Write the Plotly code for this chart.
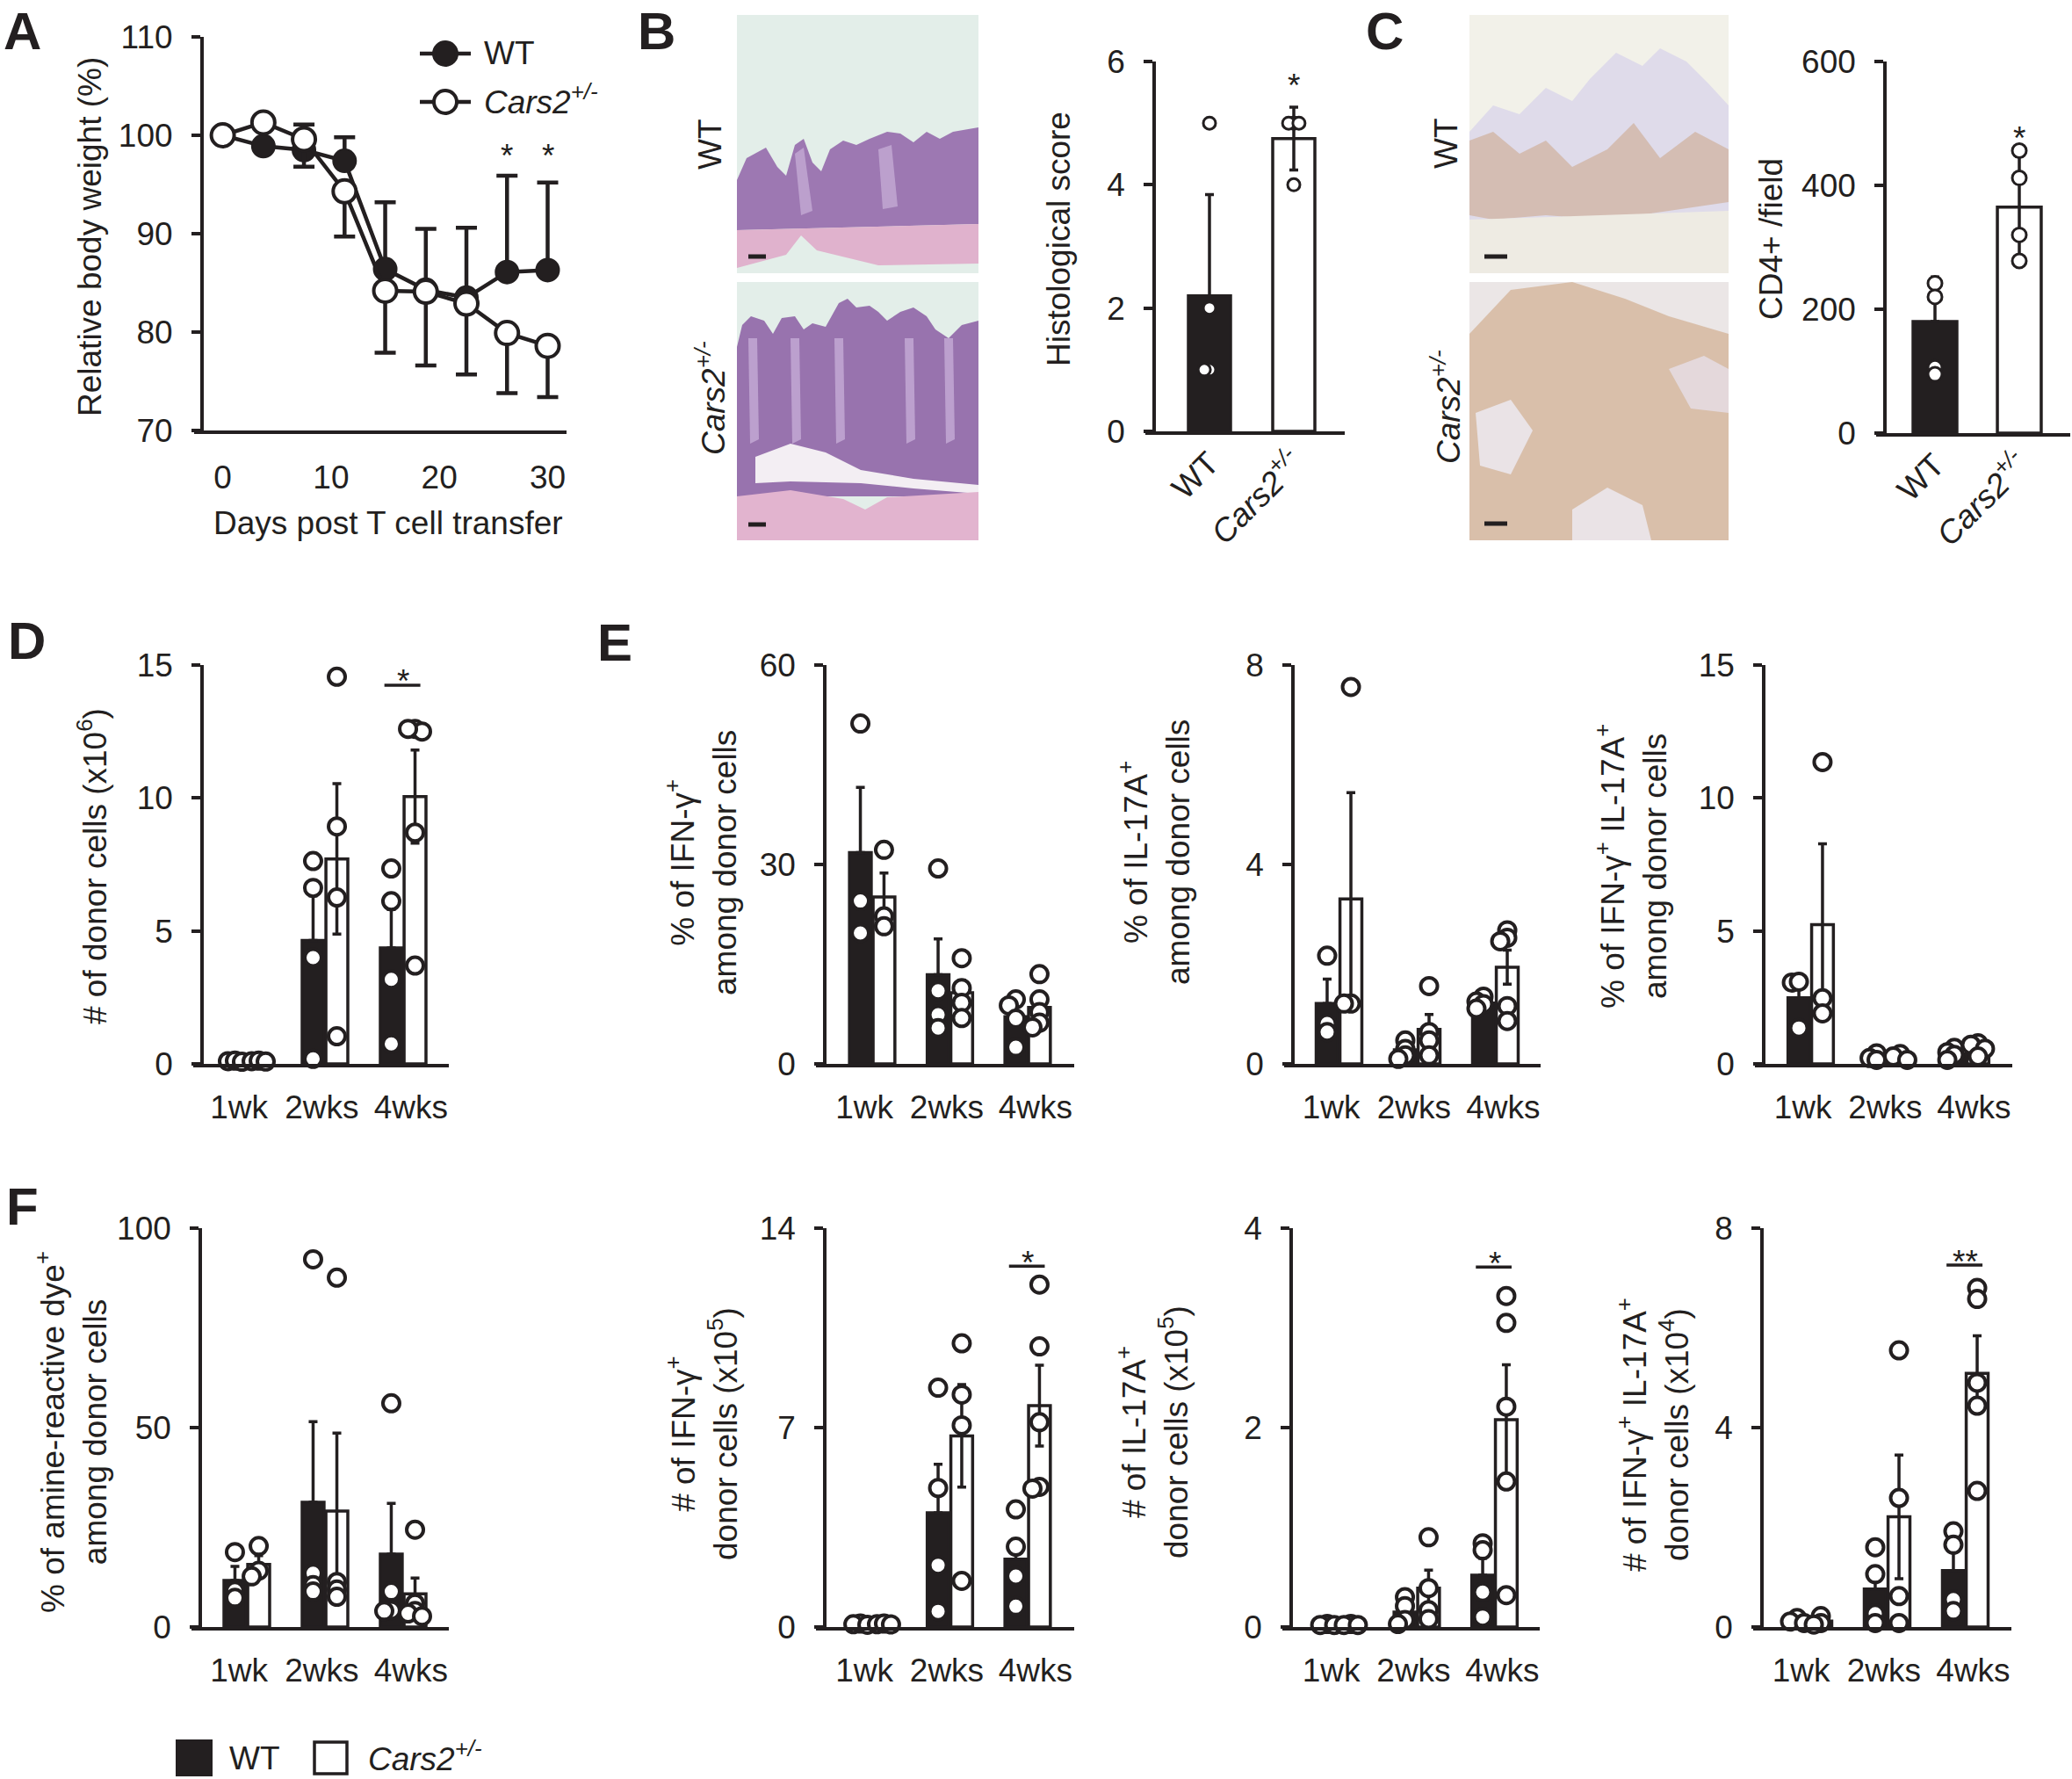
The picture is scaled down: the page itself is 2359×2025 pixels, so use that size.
import plotly.graph_objects as go

W, H = 2359, 2025
INK = "#231f20"
FONT = "Liberation Sans, Arial, Helvetica, sans-serif"
CARS = "<i>Cars2<sup>+/-</sup></i>"
FS = 37


def px(x):
    return x / W


def py(y):
    return 1 - y / H


# ---------------- data ----------------
# A: relative body weight (%) after T cell transfer
days = [0, 3.75, 7.5, 11.25, 15, 18.75, 22.5, 26.25, 30]
bw_wt = [100, 98.9, 98.5, 97.4, 86.4, 84.3, 83.5, 86.1, 86.3]
bw_wt_err = [0, 0.3, 2.6, 2.4, 6.8, 6.2, 7.1, 9.8, 8.9]
bw_ko = [100, 101.3, 99.6, 94.3, 84.2, 84.1, 82.9, 79.9, 78.6]
bw_ko_err = [0, 0.3, 2.8, 4.6, 6.3, 7.5, 7.2, 6.1, 5.2]
bw_star_days = [26.25, 30]
bw_star_y = 98.7

# B: histological score
hist_mean = [2.2, 4.75]
hist_err = [1.64, 0.51]
hist_pts = [[5, 2, 1, 1], [5, 5, 5, 4]]
hist_star = 5.74

# C: CD4+ cells per field
cd4_mean = [180, 365]
cd4_err = [72, 82]
cd4_pts = [[242, 220, 106, 95], [456, 412, 320, 278]]
cd4_star = 488

weeks = ["1wk", "2wks", "4wks"]
week_label_pos = [-0.1, 0.96, 2.1]

# D: number of donor cells (x10^6)
d_wt_mean = [0.1, 4.64, 4.36]
d_wt_err = [0.03, 1.68, 1.45]
d_wt_pts = [[0.1, 0.12, 0.08], [7.63, 6.62, 4.0, 0.19], [7.35, 6.12, 3.18, 0.75]]
d_ko_mean = [0.1, 7.71, 10.05]
d_ko_err = [0.03, 2.83, 1.75]
d_ko_pts = [[0.1, 0.12, 0.09], [14.56, 8.93, 6.26, 1.04], [12.6, 12.5, 12.6, 8.7, 3.7]]

# E: % IFN-g+, % IL-17A+, % IFN-g+ IL-17A+ among donor cells
e1_wt_mean = [31.8, 13.4, 7.1]
e1_wt_err = [9.8, 5.4, 1.5]
e1_wt_pts = [[51.2, 24.5, 19.7], [29.4, 11.0, 7.4, 5.4], [9.7, 8.8, 6.8, 2.5]]
e1_ko_mean = [25.1, 10.7, 8.5]
e1_ko_err = [3.6, 1.9, 1.4]
e1_ko_pts = [[32.2, 22.2, 20.7], [15.9, 11.4, 9.2, 6.9], [13.5, 9.7, 7.8, 6.2, 5.5]]

e2_wt_mean = [1.21, 0.28, 1.22]
e2_wt_err = [0.49, 0.08, 0.06]
e2_wt_pts = [[2.17, 0.81, 0.64], [0.47, 0.30, 0.17, 0.10], [1.35, 1.25, 1.2, 1.11]]
e2_ko_mean = [3.31, 0.69, 1.94]
e2_ko_err = [2.13, 0.30, 0.34]
e2_ko_pts = [[7.56, 1.21, 1.21], [1.56, 0.64, 0.47, 0.17], [2.68, 2.53, 2.46, 1.16, 0.86]]

e3_wt_mean = [2.49, 0.26, 0.38]
e3_wt_err = [0.5, 0.06, 0.1]
e3_wt_pts = [[3.06, 3.09, 1.35], [0.40, 0.22, 0.15], [0.60, 0.44, 0.34, 0.15]]
e3_ko_mean = [5.24, 0.27, 0.58]
e3_ko_err = [3.04, 0.06, 0.1]
e3_ko_pts = [[11.35, 2.47, 1.9], [0.37, 0.28, 0.15], [0.78, 0.72, 0.57, 0.28]]

# F: dead cells and absolute numbers of cytokine producers
f1_wt_mean = [11.7, 31.3, 18.3]
f1_wt_err = [3.5, 20.2, 12.7]
f1_wt_pts = [[18.8, 9.1, 7.3], [92.2, 13.5, 10.5, 8.9], [56.1, 8.9, 4.2, 4.0]]
f1_ko_mean = [15.7, 29.1, 8.3]
f1_ko_err = [2.2, 19.5, 4.0]
f1_ko_pts = [[20.3, 14.1, 12.7], [87.6, 11.3, 9.4, 7.6], [24.4, 5.9, 4.0, 3.4, 2.7]]

f2_wt_mean = [0.1, 4.01, 2.38]
f2_wt_err = [0.02, 1.7, 0.71]
f2_wt_pts = [[0.12, 0.1, 0.08], [8.4, 4.88, 2.17, 0.55], [4.13, 2.82, 1.79, 0.73]]
f2_ko_mean = [0.1, 6.71, 7.77]
f2_ko_err = [0.02, 1.8, 1.42]
f2_ko_pts = [[0.1, 0.12, 0.09], [9.96, 8.16, 7.08, 1.62], [12.02, 9.85, 7.19, 4.92, 4.86]]

f3_wt_mean = [0.02, 0.15, 0.52]
f3_wt_err = [0.01, 0.06, 0.17]
f3_wt_pts = [[0.03, 0.02, 0.02], [0.30, 0.21, 0.07, 0.03], [0.84, 0.77, 0.35, 0.10]]
f3_ko_mean = [0.02, 0.39, 2.08]
f3_ko_err = [0.01, 0.18, 0.55]
f3_ko_pts = [[0.03, 0.02, 0.02], [0.90, 0.39, 0.17, 0.08], [3.32, 3.05, 2.21, 1.46, 0.32]]

f4_wt_mean = [0.12, 0.76, 1.13]
f4_wt_err = [0.03, 0.33, 0.37]
f4_wt_pts = [[0.18, 0.11, 0.08], [1.6, 1.06, 0.27, 0.08], [1.92, 1.65, 0.55, 0.32]]
f4_ko_mean = [0.12, 2.21, 5.09]
f4_ko_err = [0.05, 1.24, 0.75]
f4_ko_pts = [[0.22, 0.08, 0.05], [5.55, 2.59, 0.62, 0.08], [6.8, 6.58, 4.9, 4.44, 2.73]]

# significance: (group index, bar height, star height, label)
d_sig = [(2, 14.24, 14.68, "*")]
f2_sig = [(2, 12.67, 13.05, "*")]
f3_sig = [(2, 3.61, 3.72, "*")]
f4_sig = [(2, 7.26, 7.48, "**")]

# ---------------- figure ----------------
fig = go.Figure()
shapes = []
annotations = []


def ids(n):
    s = "" if n == 1 else str(n)
    return "x" + s, "y" + s, "xaxis" + s, "yaxis" + s


def text(t, x, y, size=FS, angle=0, xanchor="center", yanchor="middle", ref=("paper", "paper"), yshift=0):
    annotations.append(dict(text=t, x=x, y=y, xref=ref[0], yref=ref[1], showarrow=False,
                            textangle=angle, xanchor=xanchor, yanchor=yanchor, yshift=yshift,
                            font=dict(family=FONT, size=size, color=INK)))


def swarm(values, unit_px, size):
    # simple beeswarm: spread overlapping points sideways (pixel offsets)
    placed, offs = [], [0.0] * len(values)
    step = size * 0.42
    for i in sorted(range(len(values)), key=lambda k: -values[k]):
        yv = values[i] * unit_px
        for k in [0, -1, 1, -2, 2, -3, 3]:
            xv = k * step
            if all((xv - a) ** 2 + (yv - b) ** 2 >= (size * 0.38) ** 2 for a, b in placed):
                break
        placed.append((xv, yv))
        offs[i] = xv
    return offs


def setup_axes(n, cfg, xticks, xtext, tickangle=0, lw=3.5):
    xr, yr, xk, yk = ids(n)
    left = cfg["yx"] - 10
    fig.layout[xk] = dict(domain=[px(left), px(cfg["right"])], anchor=yr,
                          range=[(left - cfg["c0"]) / cfg["s"], (cfg["right"] - cfg["c0"]) / cfg["s"]],
                          tickvals=xticks, ticktext=xtext, tickangle=tickangle, ticks="",
                          showline=True, linecolor=INK, linewidth=lw, showgrid=False, zeroline=False,
                          ticklabelstandoff=cfg.get("xstand", 14), tickfont=dict(size=FS, color=INK))
    fig.layout[yk] = dict(domain=[py(cfg["bot"]), py(cfg["top"])], anchor="free",
                          position=px(cfg["yx"]), range=[cfg["ymin"], cfg["ymax"]],
                          tickvals=cfg["ticks"], ticks="outside", ticklen=10, tickwidth=lw,
                          tickcolor=INK, showline=True, linecolor=INK, linewidth=lw,
                          showgrid=False, zeroline=False, ticklabelstandoff=14,
                          tickfont=dict(size=FS, color=INK))


def bar_set(n, cfg, centers, means, errs, pts, fill, bw, symmetric, msize=19, mlw=4):
    xr, yr, _, _ = ids(n)
    fig.add_trace(go.Bar(x=centers, y=means, width=bw, xaxis=xr, yaxis=yr,
                         marker=dict(color=fill, line=dict(color=INK, width=3.5)),
                         error_y=dict(type="data", array=errs,
                                      arrayminus=errs if symmetric else [0] * len(errs),
                                      symmetric=False, color=INK, thickness=3.5, width=5)))
    unit_px = (cfg["bot"] - cfg["top"]) / (cfg["ymax"] - cfg["ymin"])
    xs, ys = [], []
    for c, vals in zip(centers, pts):
        for o, v in zip(swarm(vals, unit_px, msize), vals):
            xs.append(c + o / cfg["s"])
            ys.append(v)
    fig.add_trace(go.Scatter(x=xs, y=ys, mode="markers", xaxis=xr, yaxis=yr, cliponaxis=False,
                             marker=dict(size=msize, color="white", line=dict(color=INK, width=mlw))))


def week_panel(n, cfg, wt_mean, wt_err, wt_pts, ko_mean, ko_err, ko_pts, sig=()):
    xr, yr, _, _ = ids(n)
    setup_axes(n, cfg, week_label_pos, weeks)
    g = list(range(len(weeks)))
    bar_set(n, cfg, [i - 0.152 for i in g], wt_mean, wt_err, wt_pts, INK, 0.28, False)
    bar_set(n, cfg, [i + 0.152 for i in g], ko_mean, ko_err, ko_pts, "white", 0.28, True)
    for gi, ly, sy, lab in sig:
        shapes.append(dict(type="line", xref=xr, yref=yr, x0=gi - 0.24, x1=gi + 0.22, y0=ly, y1=ly,
                           line=dict(color=INK, width=3.5)))
        text(lab, gi, sy, ref=(xr, yr), yshift=-9)


# ---- A ----
fig.layout["xaxis"] = dict(domain=[px(221), px(645)], anchor="y", range=[(221 - 253.6) / 12.33, (645 - 253.6) / 12.33],
                           tickvals=[0, 10, 20, 30], ticks="", showline=True, linecolor=INK, linewidth=4,
                           showgrid=False, zeroline=False, ticklabelstandoff=18, tickfont=dict(size=FS, color=INK))
fig.layout["yaxis"] = dict(domain=[py(490), py(42)], anchor="free", position=px(230), range=[70, 110],
                           tickvals=[70, 80, 90, 100, 110], ticks="outside", ticklen=10, tickwidth=4,
                           tickcolor=INK, showline=True, linecolor=INK, linewidth=4, showgrid=False,
                           zeroline=False, ticklabelstandoff=14, tickfont=dict(size=FS, color=INK))
fig.add_trace(go.Scatter(x=days, y=bw_wt, mode="lines+markers", cliponaxis=False,
                         line=dict(color=INK, width=4.5),
                         marker=dict(size=26, color=INK, line=dict(color=INK, width=2)),
                         error_y=dict(type="data", array=bw_wt_err, arrayminus=[0] * len(days),
                                      symmetric=False, color=INK, thickness=4.5, width=12)))
fig.add_trace(go.Scatter(x=days, y=bw_ko, mode="lines+markers", cliponaxis=False,
                         line=dict(color=INK, width=4.5),
                         marker=dict(size=26, color="white", line=dict(color=INK, width=4)),
                         error_y=dict(type="data", array=[0] * len(days), arrayminus=bw_ko_err,
                                      symmetric=False, color=INK, thickness=4.5, width=12)))
for d in bw_star_days:
    text("*", d, bw_star_y, ref=("x", "y"), yshift=-9)
text("Relative body weight (%)", px(103), py(270), angle=-90)
text("Days post T cell transfer", px(442), py(596))
# legend of A
for yy, fill in [(61, INK), (116, "white")]:
    shapes.append(dict(type="line", xref="paper", yref="paper", x0=px(478), x1=px(536), y0=py(yy), y1=py(yy),
                       line=dict(color=INK, width=4.5)))
    shapes.append(dict(type="circle", xref="paper", yref="paper", x0=px(494), x1=px(520),
                       y0=py(yy + 13), y1=py(yy - 13), fillcolor=fill, line=dict(color=INK, width=4)))
text("WT", px(549), py(61), xanchor="left")
text(CARS, px(549), py(114), xanchor="left")

# ---- B / C bar charts ----
cfg_b = dict(yx=1314, c0=1377, s=96, right=1531, top=70, bot=491, ymin=0, ymax=6, ticks=[0, 2, 4, 6], xstand=-4)
cfg_c = dict(yx=2146, c0=2203, s=96, right=2357, top=70, bot=493, ymin=0, ymax=600,
             ticks=[0, 200, 400, 600], xstand=-4)
for n, cfg, mean, err, pts, star, title, tx, bw, ms in [
        (2, cfg_b, hist_mean, hist_err, hist_pts, hist_star, "Histological score", 1205, 0.5, 14),
        (3, cfg_c, cd4_mean, cd4_err, cd4_pts, cd4_star, "CD4+ /field", 2016, 0.52, 16)]:
    xr, yr, _, _ = ids(n)
    setup_axes(n, cfg, [0, 1], ["WT", CARS], tickangle=-45, lw=3.5)
    bar_set(n, cfg, [0], mean[:1], err[:1], pts[:1], INK, bw, False, msize=ms, mlw=3)
    bar_set(n, cfg, [1], mean[1:], err[1:], pts[1:], "white", bw, True, msize=ms, mlw=3)
    text("*", 1, star, ref=(xr, yr), yshift=-9)
    text(title, px(tx), py(272), angle=-90)

# ---- D, E, F ----
row2 = dict(top=757, bot=1211, ymin=0)
row3 = dict(top=1398, bot=1852, ymin=0)
week_panel(4, dict(row2, yx=230, c0=281, s=89, right=511, ymax=15, ticks=[0, 5, 10, 15]),
           d_wt_mean, d_wt_err, d_wt_pts, d_ko_mean, d_ko_err, d_ko_pts, d_sig)
week_panel(5, dict(row2, yx=939, c0=993, s=88.5, right=1223, ymax=60, ticks=[0, 30, 60]),
           e1_wt_mean, e1_wt_err, e1_wt_pts, e1_ko_mean, e1_ko_err, e1_ko_pts)
week_panel(6, dict(row2, yx=1472, c0=1524.5, s=89, right=1754, ymax=8, ticks=[0, 4, 8]),
           e2_wt_mean, e2_wt_err, e2_wt_pts, e2_ko_mean, e2_ko_err, e2_ko_pts)
week_panel(7, dict(row2, yx=2008, c0=2061.5, s=88.5, right=2291, ymax=15, ticks=[0, 5, 10, 15]),
           e3_wt_mean, e3_wt_err, e3_wt_pts, e3_ko_mean, e3_ko_err, e3_ko_pts)
week_panel(8, dict(row3, yx=228, c0=281, s=89, right=511, ymax=100, ticks=[0, 50, 100]),
           f1_wt_mean, f1_wt_err, f1_wt_pts, f1_ko_mean, f1_ko_err, f1_ko_pts)
week_panel(9, dict(row3, yx=939, c0=993, s=88.5, right=1223, ymax=14, ticks=[0, 7, 14]),
           f2_wt_mean, f2_wt_err, f2_wt_pts, f2_ko_mean, f2_ko_err, f2_ko_pts, f2_sig)
week_panel(10, dict(row3, yx=1470, c0=1524.5, s=88.5, right=1753, ymax=4, ticks=[0, 2, 4]),
           f3_wt_mean, f3_wt_err, f3_wt_pts, f3_ko_mean, f3_ko_err, f3_ko_pts, f3_sig)
week_panel(11, dict(row3, yx=2006, c0=2059.5, s=89, right=2290, ymax=8, ticks=[0, 4, 8]),
           f4_wt_mean, f4_wt_err, f4_wt_pts, f4_ko_mean, f4_ko_err, f4_ko_pts, f4_sig)

text("# of donor cells (x10<sup>6</sup>)", px(105), py(986), angle=-90)
text("% of IFN-γ<sup>+</sup><br>among donor cells", px(798), py(982), angle=-90)
text("% of IL-17A<sup>+</sup><br>among donor cells", px(1315), py(970), angle=-90)
text("% of IFN-γ<sup>+</sup> IL-17A<sup>+</sup><br>among donor cells", px(1857), py(986), angle=-90)
text("% of amine-reactive dye<sup>+</sup><br>among donor cells", px(81), py(1630), angle=-90)
text("# of IFN-γ<sup>+</sup><br>donor cells (x10<sup>5</sup>)", px(799), py(1632), angle=-90)
text("# of IL-17A<sup>+</sup><br>donor cells (x10<sup>5</sup>)", px(1312), py(1630), angle=-90)
text("# of IFN-γ<sup>+</sup> IL-17A<sup>+</sup><br>donor cells (x10<sup>4</sup>)", px(1882), py(1633), angle=-90)

# bottom legend
shapes.append(dict(type="rect", xref="paper", yref="paper", x0=px(201), x1=px(241), y0=py(2021), y1=py(1981),
                   fillcolor=INK, line=dict(color=INK, width=2)))
shapes.append(dict(type="rect", xref="paper", yref="paper", x0=px(358), x1=px(395), y0=py(2019), y1=py(1983),
                   fillcolor="white", line=dict(color=INK, width=3.5)))
text("WT", px(259), py(2001), xanchor="left")
text(CARS, px(417), py(1999), xanchor="left")

# panel letters
for lab, x, y in [("A", 2, 0), ("B", 724, 0), ("C", 1553, 0), ("D", 7, 694), ("E", 678, 696), ("F", 5, 1338)]:
    text("<b>%s</b>" % lab, px(x), py(y), size=60, xanchor="left", yanchor="top")


# ---- micrograph placeholders (decorative) ----
def poly(pts, fill, opacity=1.0):
    path = "M " + " L ".join("%.5f,%.5f" % (px(x), py(y)) for x, y in pts) + " Z"
    shapes.append(dict(type="path", xref="paper", yref="paper", path=path, fillcolor=fill,
                       opacity=opacity, line=dict(width=0), layer="below"))


def rect(x0, y0, x1, y1, fill, opacity=1.0):
    poly([(x0, y0), (x1, y0), (x1, y1), (x0, y1)], fill, opacity)


# B, WT
rect(839, 17, 1114, 311, "#e3eee9")
poly([(839, 205), (850, 180), (872, 168), (885, 190), (895, 200), (905, 165), (915, 158), (925, 185),
      (935, 195), (945, 170), (960, 160), (975, 165), (990, 158), (1010, 150), (1025, 152), (1040, 162),
      (1055, 150), (1070, 158), (1085, 150), (1114, 145), (1114, 255), (839, 262)], "#9d78b2")
poly([(905, 175), (915, 168), (925, 240), (912, 245)], "#c9b0d8", 0.7)
poly([(1000, 170), (1015, 165), (1022, 235), (1005, 238)], "#c9b0d8", 0.7)
poly([(839, 262), (1114, 255), (1114, 300), (1000, 302), (930, 285), (912, 268), (895, 290), (839, 305)], "#e0b2cd")
# B, Cars2
rect(839, 321, 1114, 615, "#e3eee9")
poly([(839, 395), (845, 370), (855, 360), (870, 365), (880, 380), (890, 362), (905, 360), (915, 375),
      (925, 368), (940, 372), (955, 345), (965, 340), (975, 350), (990, 348), (1000, 355), (1010, 365),
      (1025, 355), (1040, 350), (1055, 360), (1065, 375), (1080, 385), (1095, 370), (1114, 365),
      (1114, 565), (839, 565)], "#9873ae")
for x0 in [852, 900, 950, 1030, 1075]:
    poly([(x0, 385), (x0 + 10, 385), (x0 + 12, 500), (x0 + 2, 505)], "#c8afd8", 0.75)
poly([(860, 520), (900, 505), (940, 515), (980, 535), (1040, 545), (1114, 552), (1114, 562), (1040, 556),
      (980, 550), (900, 548), (860, 550)], "#f3eef3")
poly([(839, 565), (900, 558), (960, 568), (985, 580), (1010, 566), (1114, 560), (1114, 615), (839, 615)], "#e2b4cf")
# C, WT
rect(1673, 17, 1968, 311, "#f2f1e9")
poly([(1673, 150), (1700, 120), (1730, 130), (1760, 100), (1790, 115), (1810, 90), (1840, 60), (1870, 75),
      (1890, 55), (1920, 70), (1945, 95), (1968, 120), (1968, 260), (1673, 270)], "#dfdbea")
poly([(1673, 160), (1700, 150), (1730, 175), (1760, 160), (1790, 190), (1830, 170), (1860, 140), (1890, 180),
      (1930, 150), (1968, 170), (1968, 230), (1900, 240), (1830, 250), (1760, 245), (1700, 250), (1673, 245)],
     "#c39262", 0.4)
poly([(1673, 250), (1968, 240), (1968, 311), (1673, 311)], "#eeebe3")
# C, Cars2
rect(1673, 321, 1968, 615, "#ebe6e6")
poly([(1673, 380), (1720, 330), (1790, 321), (1850, 340), (1900, 360), (1968, 380), (1968, 615), (1673, 615)],
     "#c08a57", 0.42)
poly([(1680, 470), (1720, 455), (1745, 490), (1720, 540), (1685, 530)], "#ebe7ec", 0.9)
poly([(1790, 580), (1830, 555), (1870, 575), (1880, 615), (1790, 615)], "#ebe7ec", 0.9)
poly([(1900, 420), (1940, 405), (1968, 420), (1968, 470), (1925, 465)], "#e6dfe7", 0.8)
# scale bars
for x0, x1, yy in [(852, 872, 292), (852, 872, 597), (1690, 1716, 292), (1690, 1716, 596)]:
    shapes.append(dict(type="line", xref="paper", yref="paper", x0=px(x0), x1=px(x1), y0=py(yy), y1=py(yy),
                       line=dict(color=INK, width=5)))
text("WT", px(809), py(164), angle=-90)
text(CARS, px(809), py(453), angle=-90)
text("WT", px(1647), py(163), angle=-90)
text(CARS, px(1647), py(463), angle=-90)

fig.update_layout(width=W, height=H, margin=dict(l=0, r=0, t=0, b=0, autoexpand=False), autosize=False,
                  paper_bgcolor="white", plot_bgcolor="rgba(0,0,0,0)", showlegend=False,
                  barmode="overlay", font=dict(family=FONT, size=FS, color=INK),
                  shapes=shapes, annotations=annotations)

# the page body has a default 8px margin; drop it so the figure fills the window exactly
fig.write_html("out.html", config={"displayModeBar": False},
               post_script="document.body.style.margin='0';document.body.style.overflow='hidden';")
